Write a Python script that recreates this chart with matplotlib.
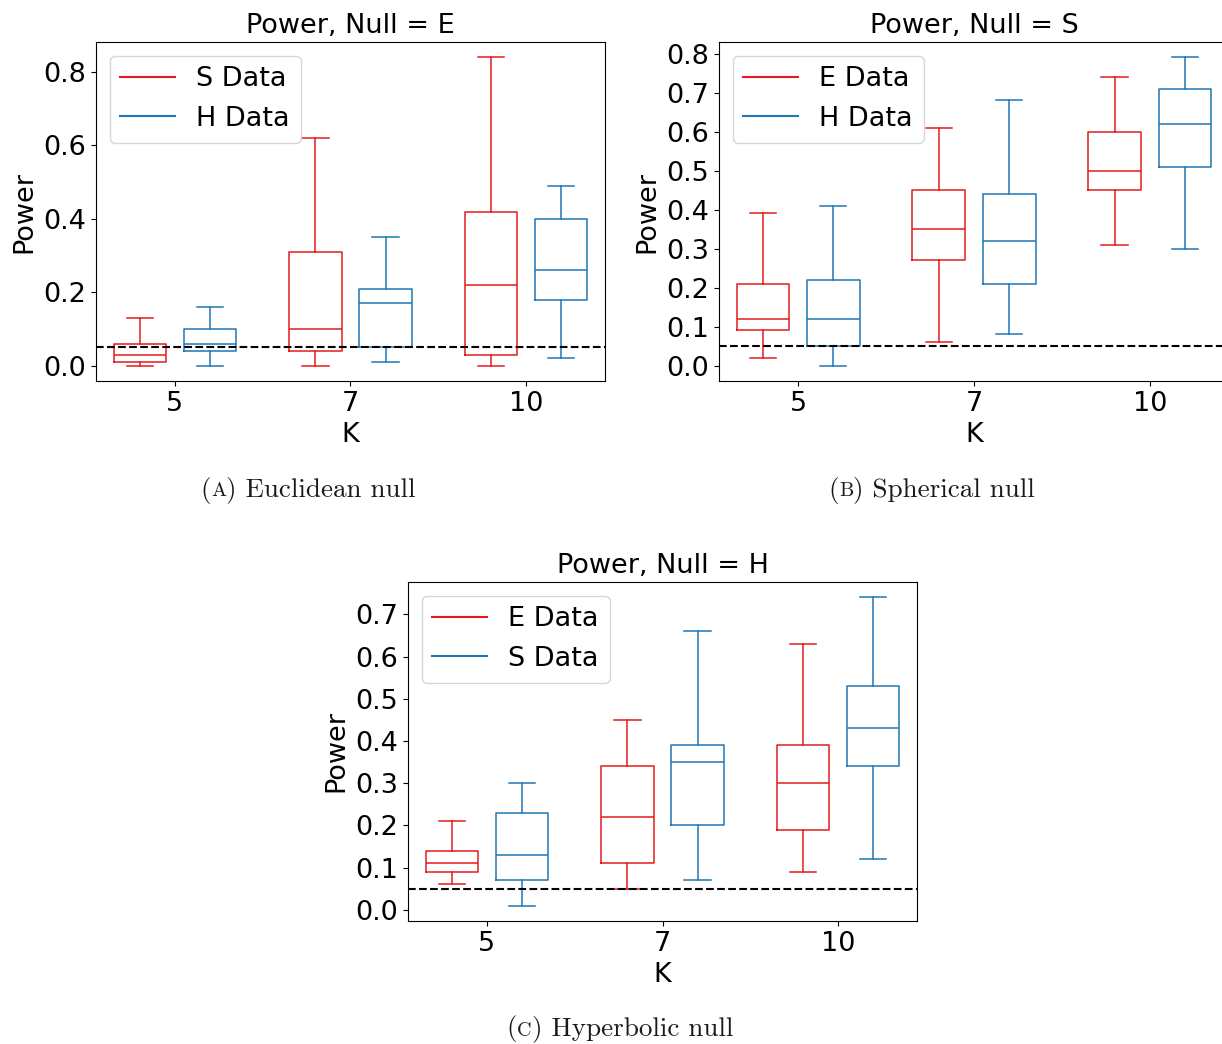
import matplotlib
matplotlib.use("Agg")
import matplotlib.pyplot as plt
from matplotlib.offsetbox import TextArea, HPacker, AnnotationBbox
from matplotlib.lines import Line2D

# ---------------- data ----------------
k_labels = ["5", "7", "10"]

# Panel A: Null = E
a_s_lo = [0.00, 0.00, 0.00]
a_s_q1 = [0.01, 0.04, 0.03]
a_s_med = [0.03, 0.10, 0.22]
a_s_q3 = [0.06, 0.31, 0.42]
a_s_hi = [0.13, 0.62, 0.84]

a_h_lo = [0.00, 0.01, 0.02]
a_h_q1 = [0.04, 0.05, 0.18]
a_h_med = [0.06, 0.17, 0.26]
a_h_q3 = [0.10, 0.21, 0.40]
a_h_hi = [0.16, 0.35, 0.49]

# Panel B: Null = S
b_e_lo = [0.02, 0.06, 0.31]
b_e_q1 = [0.09, 0.27, 0.45]
b_e_med = [0.12, 0.35, 0.50]
b_e_q3 = [0.21, 0.45, 0.60]
b_e_hi = [0.39, 0.61, 0.74]

b_h_lo = [0.00, 0.08, 0.30]
b_h_q1 = [0.05, 0.21, 0.51]
b_h_med = [0.12, 0.32, 0.62]
b_h_q3 = [0.22, 0.44, 0.71]
b_h_hi = [0.41, 0.68, 0.79]

# Panel C: Null = H
c_e_lo = [0.06, 0.05, 0.09]
c_e_q1 = [0.09, 0.11, 0.19]
c_e_med = [0.11, 0.22, 0.30]
c_e_q3 = [0.14, 0.34, 0.39]
c_e_hi = [0.21, 0.45, 0.63]

c_s_lo = [0.01, 0.07, 0.12]
c_s_q1 = [0.07, 0.20, 0.34]
c_s_med = [0.13, 0.35, 0.43]
c_s_q3 = [0.23, 0.39, 0.53]
c_s_hi = [0.30, 0.66, 0.74]

alpha_level = 0.05

RED = "#e41a1c"
BLUE = "#1f77b4"
FS = 19.5

plt.rcParams["font.family"] = ["DejaVu Sans"]
plt.rcParams["font.size"] = FS

fig = plt.figure(figsize=(12.22, 10.44), dpi=100)


def stats(lo, q1, med, q3, hi):
    return [dict(whislo=a, q1=b, med=c, q3=d, whishi=e, fliers=[])
            for a, b, c, d, e in zip(lo, q1, med, q3, hi)]


def draw_group(ax, st, pos, color):
    lp = dict(color=color, linewidth=1.1)
    ax.bxp(st, positions=pos, widths=0.3, showfliers=False, manage_ticks=False,
           boxprops=lp, medianprops=lp, whiskerprops=lp, capprops=lp)


def panel(rect, title, s1, s2, n1, n2):
    ax = fig.add_axes(rect)
    pos = [1, 2, 3]
    draw_group(ax, s1, [p - 0.2 for p in pos], RED)
    draw_group(ax, s2, [p + 0.2 for p in pos], BLUE)
    ax.axhline(alpha_level, color="black", linestyle="--", linewidth=1.5)
    ax.set_xticks(pos)
    ax.set_xticklabels(k_labels)
    ax.set_xlim(0.55, 3.45)
    ax.set_xlabel("K", labelpad=3.5)
    ax.set_ylabel("Power")
    ax.set_title(title, fontsize=FS, pad=6.5)
    handles = [Line2D([], [], color=RED, linewidth=1.5),
               Line2D([], [], color=BLUE, linewidth=1.5)]
    ax.legend(handles, [n1, n2], loc="upper left", fontsize=FS,
              handlelength=2.0, borderaxespad=0.5)
    return ax


W, H = 1222, 1044
def rect(x0, y0, x1, y1):
    return [x0 / W, 1 - y1 / H, (x1 - x0) / W, (y1 - y0) / H]

axA = panel(rect(96, 42, 605, 381), "Power, Null = E",
            stats(a_s_lo, a_s_q1, a_s_med, a_s_q3, a_s_hi),
            stats(a_h_lo, a_h_q1, a_h_med, a_h_q3, a_h_hi), "S Data", "H Data")
axA.set_yticks([0.0, 0.2, 0.4, 0.6, 0.8])
axA.set_ylim(-0.042, 0.882)

axB = panel(rect(719, 42, 1229, 381), "Power, Null = S",
            stats(b_e_lo, b_e_q1, b_e_med, b_e_q3, b_e_hi),
            stats(b_h_lo, b_h_q1, b_h_med, b_h_q3, b_h_hi), "E Data", "H Data")
axB.set_yticks([0.0, 0.1, 0.2, 0.3, 0.4, 0.5, 0.6, 0.7, 0.8])
axB.set_ylim(-0.0395, 0.8295)

axC = panel(rect(408, 582, 917, 921), "Power, Null = H",
            stats(c_e_lo, c_e_q1, c_e_med, c_e_q3, c_e_hi),
            stats(c_s_lo, c_s_q1, c_s_med, c_s_q3, c_s_hi), "E Data", "S Data")
axC.set_yticks([0.0, 0.1, 0.2, 0.3, 0.4, 0.5, 0.6, 0.7])
axC.set_ylim(-0.0265, 0.7765)


def caption(xpx, ypx, letter, rest):
    big = dict(family="cmr10", size=19.5, color="#1a1a1a")
    small = dict(family="cmr10", size=14.5, color="#1a1a1a")
    box = HPacker(children=[TextArea("(", textprops=big),
                            TextArea(letter, textprops=small),
                            TextArea(") " + rest, textprops=big)],
                  align="baseline", pad=0, sep=0)
    ab = AnnotationBbox(box, (xpx / W, 1 - ypx / H), xycoords="figure fraction",
                        frameon=False, box_alignment=(0.5, 0.5), pad=0)
    fig.add_artist(ab)

caption(308, 490, "A", "Euclidean null")
caption(932, 490, "B", "Spherical null")
caption(620, 1029, "C", "Hyperbolic null")

fig.savefig("out.png", dpi=100)
